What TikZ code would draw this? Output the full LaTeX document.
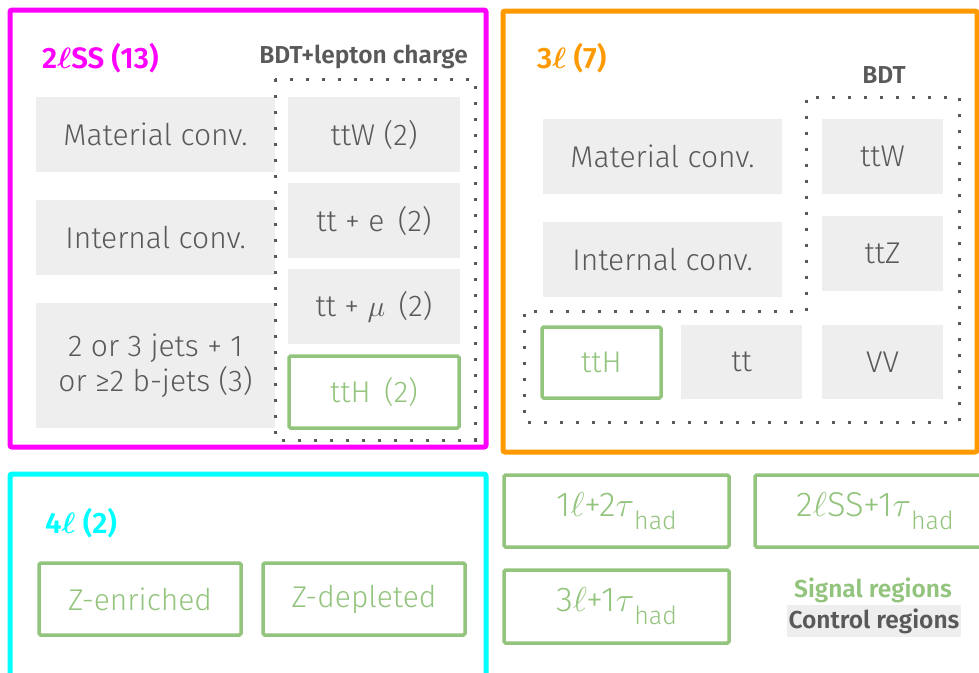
\RequirePackage{fix-cm}
\documentclass[tikz,border=0pt]{standalone}
\usepackage{fontspec}
\setmainfont{Fira Sans}[UprightFont=* Light, BoldFont=* SemiBold]
\definecolor{mag}{HTML}{FF00FF}
\definecolor{org}{HTML}{FF9900}
\definecolor{cya}{HTML}{00FFFF}
\definecolor{grn}{HTML}{93C47D}
\definecolor{gfill}{HTML}{EEEEEE}
\definecolor{gtext}{HTML}{595959}
\tikzset{
  panel/.style={draw, line width=5pt, rounded corners=2pt, inner sep=0pt},
  crbox/.style={fill=gfill, text=gtext, inner sep=0pt, align=center,
    font=\fontsize{30}{35}\selectfont},
  srbox/.style={draw=grn, line width=3.5pt, rounded corners=1.5pt, text=grn,
    inner sep=0pt, align=center, font=\fontsize{30}{35}\selectfont},
  taubox/.style={srbox, font=\fontsize{34.5}{36}\selectfont},
  dotline/.style={draw=gtext, line width=3pt, dash pattern=on 3pt off 13pt},
  ttl/.style={font=\fontsize{29.5}{32}\selectfont\bfseries\boldmath, inner sep=0pt},
  sub/.style={font=\fontsize{24.5}{28}\selectfont\bfseries, inner sep=0pt, text=gtext},
}
\newcommand{\had}{\raisebox{-13pt}{\fontsize{25}{25}\selectfont had}}
\begin{document}
\begin{tikzpicture}[x=1pt,y=-1pt]
\useasboundingbox (0,0) rectangle (979,672);
\clip (0,0) rectangle (979,672);
% panels
\node[panel, draw=mag, minimum width=476pt, minimum height=437pt] (p2l) at (248,228.5) {};
\node[panel, draw=org, minimum width=474pt, minimum height=441pt] (p3l) at (740,231.5) {};
\node[panel, draw=cya, minimum width=476pt, minimum height=216pt] (p4l) at (248,582) {};
% titles
\node[ttl, text=mag, anchor=base west] (t2l) at (42,68) {2$\ell$SS (13)};
\node[ttl, text=org, anchor=base west] (t3l) at (537,68) {3$\ell$ (7)};
\node[ttl, text=cya, anchor=base west] (t4l) at (45,533) {4$\ell$ (2)};
\node[sub, anchor=base east] (bdt1) at (468,63) {BDT+lepton charge};
\node[sub, anchor=base] (bdt2) at (884,83) {BDT};
% 2lSS contents
\node[crbox, minimum width=239pt, minimum height=75pt] (mat1) at (155.5,134.5) {Material conv.};
\node[crbox, minimum width=239pt, minimum height=75pt] (int1) at (155.5,237.5) {Internal conv.};
\node[crbox, minimum width=239pt, minimum height=125pt] (jets) at (155.5,365.5) {2 or 3 jets + 1\\or ≥2 b-jets (3)};
\node[crbox, minimum width=172pt, minimum height=75pt] (ttw2) at (374,134.5) {ttW (2)};
\node[crbox, minimum width=172pt, minimum height=75pt] (tte) at (374,220.5) {tt + e\, (2)};
\node[crbox, minimum width=172pt, minimum height=75pt] (ttmu) at (374,306.5) {tt + $\mu$\, (2)};
\node[srbox, minimum width=170pt, minimum height=72pt] (tth2) at (374,392) {ttH\, (2)};
\draw[dotline] (275,79) rectangle (475,440);
% 3l contents
\node[crbox, minimum width=239pt, minimum height=75pt] (mat2) at (662.5,156.5) {Material conv.};
\node[crbox, minimum width=239pt, minimum height=75pt] (int2) at (662.5,259.5) {Internal conv.};
\node[crbox, minimum width=121pt, minimum height=75pt] (ttw3) at (882.5,156.5) {ttW};
\node[crbox, minimum width=121pt, minimum height=75pt] (ttz3) at (882.5,253) {ttZ};
\node[crbox, minimum width=121pt, minimum height=74pt] (vv3) at (882.5,362) {VV};
\node[crbox, minimum width=121pt, minimum height=74pt] (tt3) at (741.5,362) {tt};
\node[srbox, minimum width=119pt, minimum height=71pt] (tth3) at (601.5,362.5) {ttH};
\draw[dotline] (806,311) -- (806,97) -- (959,97) -- (959,422) -- (524,422) -- (524,311) -- cycle;
% 4l contents
\node[srbox, minimum width=202pt, minimum height=72pt] (zen) at (140,599) {Z-enriched};
\node[srbox, minimum width=202pt, minimum height=72pt] (zdep) at (364,599) {Z-depleted};
% tau regions
\node[taubox, minimum width=225pt, minimum height=72pt] (s1) at (616.5,511) {1$\ell$+2$\tau$\had};
\node[taubox, minimum width=240pt, minimum height=72pt] (s2) at (875,511) {2$\ell$SS+1$\tau$\had};
\node[taubox, minimum width=225pt, minimum height=73pt] (s3) at (616.5,606.5) {3$\ell$+1$\tau$\had};
% legend
\node[sub, text=grn] (lsig) at (873,590) {Signal regions};
\node[sub, fill=gfill, minimum width=174pt, minimum height=32pt] (lctl) at (874,621) {Control regions};
\end{tikzpicture}
\end{document}
